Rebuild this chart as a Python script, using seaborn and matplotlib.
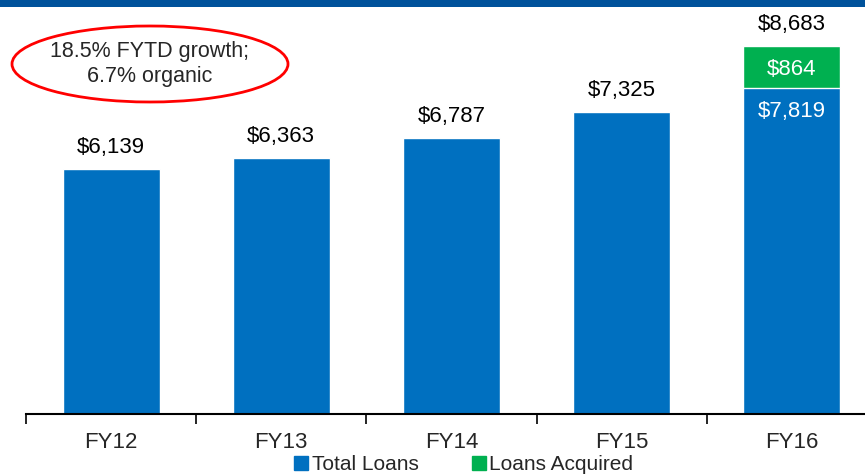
import numpy as np
import pandas as pd
import matplotlib
matplotlib.use("Agg")
import matplotlib.pyplot as plt
import seaborn as sns
from matplotlib.patches import Ellipse, Rectangle
from matplotlib.lines import Line2D

# data
years = ["FY12", "FY13", "FY14", "FY15", "FY16"]
organic = [6139, 6363, 6787, 7325, 7819]
acquired = [0, 0, 0, 0, 864]
totals = [o + a for o, a in zip(organic, acquired)]

BLUE = "#0070C0"
GREEN = "#00B050"
BAND = "#00529B"

df = pd.DataFrame({"year": years, "organic": organic, "total": totals})

sns.set_theme(style="white")
plt.rcParams["font.family"] = ["Liberation Sans", "DejaVu Sans"]

fig = plt.figure(figsize=(8.65, 4.76), dpi=100)
ax = fig.add_axes([26 / 865, 1 - 414 / 476, 851 / 865, 414 / 476])

# stacked look: total bar in green, organic part drawn over it in blue
sns.barplot(data=df, x="year", y="total", color=GREEN, width=0.57,
            saturation=1, ax=ax)
sns.barplot(data=df, x="year", y="organic", color=BLUE, width=0.57,
            saturation=1, ax=ax)

ax.set_ylim(1072, 9635)
ax.set_xlim(-0.5, 4.5)

# total labels above bars
for i, t in enumerate(totals):
    ax.annotate(f"${t:,}", (i, t), xytext=(0, 8), textcoords="offset points",
                ha="center", va="bottom", fontsize=16, color="black")

# inside labels for the stacked bar
for i, (o, a) in enumerate(zip(organic, acquired)):
    if a > 0:
        ax.annotate(f"${a:,}", (i, o + a / 2), xytext=(0, -2), textcoords="offset points",
                    ha="center", va="center", fontsize=16, color="white")
        ax.annotate(f"${o:,}", (i, o), xytext=(0, -17), textcoords="offset points",
                    ha="center", va="center", fontsize=16, color="white")

# axis styling
for s in ["left", "right", "top"]:
    ax.spines[s].set_visible(False)
ax.spines["bottom"].set_color("black")
ax.spines["bottom"].set_linewidth(1.5)
ax.set_yticks([])
ax.set_xlabel("")
ax.set_ylabel("")
ax.set_xticks(range(len(years)))
ax.set_xticklabels(years, fontsize=16)
ax.set_xticks(np.arange(-0.5, 5, 1), minor=True)
ax.tick_params(axis="x", which="major", length=0, pad=13)
ax.tick_params(axis="x", which="minor", length=7, width=1.2, color="black",
               bottom=True, direction="out")

# callout ellipse
ell = Ellipse((150 / 865, 1 - 64 / 476), 276 / 865, 76 / 476,
              transform=fig.transFigure, fill=False, edgecolor="red", lw=2)
fig.add_artist(ell)
fig.text(150 / 865, 1 - 64 / 476, "18.5% FYTD growth;\n6.7% organic",
         ha="center", va="center", fontsize=15.5, linespacing=1.25)

# top band
fig.add_artist(Rectangle((0, 1 - 7 / 476), 1, 7 / 476, transform=fig.transFigure,
                         color=BAND, lw=0))

# legend
handles = [Line2D([], [], marker="s", ls="", color=BLUE, markersize=10),
           Line2D([], [], marker="s", ls="", color=GREEN, markersize=10)]
fig.legend(handles, ["Total Loans", "Loans Acquired"], loc="center",
           bbox_to_anchor=(462 / 865, 1 - 465 / 476), ncol=2, frameon=False,
           fontsize=15, handletextpad=0.0, columnspacing=2.4, handlelength=1.0,
           borderaxespad=0, borderpad=0)

fig.savefig("out.png", dpi=100)
